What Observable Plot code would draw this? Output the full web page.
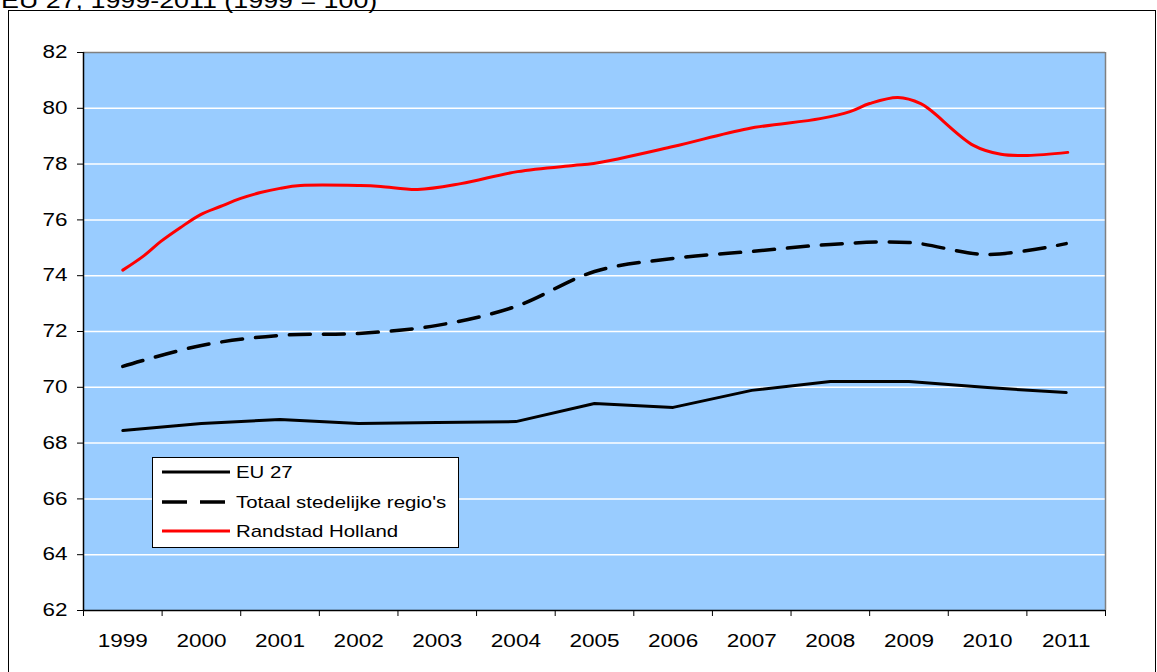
<!DOCTYPE html>
<html><head><meta charset="utf-8">
<script src="https://cdn.jsdelivr.net/npm/d3@7"></script>
<script src="https://cdn.jsdelivr.net/npm/@observablehq/plot@0.6"></script>
<style>
body{margin:0;background:#fff;font-family:"Liberation Sans",Arial,sans-serif;}
#wrap{position:relative;width:1157px;height:672px;overflow:hidden;}
#border{position:absolute;left:8px;top:10px;width:1148px;height:700px;border:1px solid #000;box-sizing:border-box;}
#chart{position:absolute;left:0;top:0;}
#overlay{position:absolute;left:0;top:0;}
</style></head><body>
<div id="wrap"><div id="border"></div><div id="chart"></div><svg id="overlay" width="1157" height="672"></svg></div>
<script>
const titleText = "EU 27, 1999-2011 (1999 = 100)";
const seriesNames = ["EU 27", "Totaal stedelijke regio's", "Randstad Holland"];
const years = [1999, 2000, 2001, 2002, 2003, 2004, 2005, 2006, 2007, 2008, 2009, 2010, 2011];
const eu27 = [68.45, 68.70, 68.85, 68.70, 68.74, 68.77, 69.42, 69.28, 69.89, 70.21, 70.21, 69.99, 69.81];
const totaal = [70.75, 71.50, 71.86, 71.93, 72.22, 72.90, 74.15, 74.62, 74.87, 75.12, 75.19, 74.76, 75.15];
const randstadYear = [1999.0, 1999.27, 1999.48, 1999.73, 1999.99, 2000.24, 2000.5, 2000.75, 2001.0, 2001.26, 2002.02, 2002.28, 2002.75, 2003.3, 2004.02, 2004.73, 2004.99, 2006.0, 2006.95, 2007.87, 2008.25, 2008.5, 2008.86, 2009.15, 2009.28, 2009.82, 2010.17, 2010.51, 2011.02];
const randstadVal = [74.2, 74.72, 75.22, 75.72, 76.19, 76.48, 76.77, 76.98, 77.13, 77.23, 77.23, 77.2, 77.09, 77.3, 77.73, 77.95, 78.02, 78.63, 79.27, 79.63, 79.88, 80.17, 80.39, 80.17, 79.92, 78.67, 78.35, 78.31, 78.42];
const yTicks = [62, 64, 66, 68, 70, 72, 74, 76, 78, 80, 82];

const xDomain = [years[0] - 0.5, years[years.length - 1] + 0.5];
const boundaries = [xDomain[0], ...years.map(y => y + 0.5)];
const euData = years.map((y, i) => ({x: y, v: eu27[i]}));
const totData = years.map((y, i) => ({x: y, v: totaal[i]}));
const rdData = randstadYear.map((y, i) => ({x: y, v: randstadVal[i]}));
const FONT = '"Liberation Sans", Arial, sans-serif';

const chart = Plot.plot({
  width: 1157, height: 672,
  marginLeft: 83, marginRight: 52, marginTop: 52, marginBottom: 62,
  style: {fontFamily: FONT, fontSize: "18px", color: "#000", background: "transparent", overflow: "visible"},
  x: {type: "linear", domain: xDomain},
  y: {domain: [yTicks[0], yTicks[yTicks.length - 1]]},
  marks: [
    Plot.frame({fill: "#99CCFF", stroke: "none"}),
    Plot.gridY(yTicks.slice(1, -1), {stroke: "#fff", strokeOpacity: 1, strokeWidth: 1.5}),
    Plot.ruleY([yTicks[yTicks.length - 1]], {stroke: "#808080", strokeWidth: 1.5}),
    Plot.ruleX([xDomain[1]], {stroke: "#808080", strokeWidth: 1.5}),
    Plot.axisY(yTicks, {tickSize: 6, tickPadding: 10, tickFormat: d => String(d), label: null, fontSize: 18, stroke: "#000"}),
    Plot.axisX(boundaries, {tickSize: 6, tickFormat: () => "", label: null, stroke: "#000"}),
    Plot.axisX(years, {tickSize: 0, tickPadding: 24, tickFormat: d => String(d), label: null, fontSize: 18}),
    Plot.ruleX([xDomain[0]], {stroke: "#000", strokeWidth: 1.5}),
    Plot.ruleY([yTicks[0]], {stroke: "#000", strokeWidth: 1.5}),
    Plot.line(euData, {x: "x", y: "v", stroke: "#000", strokeWidth: 3}),
    Plot.line(totData, {x: "x", y: "v", stroke: "#000", strokeWidth: 3.5, strokeDasharray: "21,13", curve: "catmull-rom"}),
    Plot.line(rdData, {x: "x", y: "v", stroke: "#ff0000", strokeWidth: 3, curve: "catmull-rom"})
  ]
});
document.getElementById("chart").appendChild(chart);

function stretch(root, k) {
  root.querySelectorAll("text").forEach(t => {
    const L = t.getComputedTextLength();
    if (L > 0) {
      t.setAttribute("textLength", (L * k).toFixed(1));
      t.setAttribute("lengthAdjust", "spacingAndGlyphs");
    }
  });
}
stretch(chart, 1.25);

// overlay: title + legend
const ov = d3.select("#overlay").style("font-family", FONT);
const titleG = ov.append("g");
titleG.append("text").attr("x", 1).attr("y", 8).attr("font-size", 22).attr("fill", "#000").text(titleText);
stretch(titleG.node(), 1.22);

const lg = ov.append("g");
lg.append("rect").attr("x", 152.5).attr("y", 457.5).attr("width", 306).attr("height", 90)
  .attr("fill", "#fff").attr("stroke", "#000").attr("stroke-width", 1);
const legendStyles = [
  {stroke: "#000", width: 3, dash: null},
  {stroke: "#000", width: 3.5, dash: "25,13"},
  {stroke: "#ff0000", width: 3, dash: null}
];
const rowY = [472, 502, 531];
seriesNames.forEach((name, i) => {
  const s = legendStyles[i];
  const ln = lg.append("line").attr("x1", 162).attr("x2", 230).attr("y1", rowY[i]).attr("y2", rowY[i])
    .attr("stroke", s.stroke).attr("stroke-width", s.width);
  if (s.dash) ln.attr("stroke-dasharray", s.dash);
  lg.append("text").attr("x", 236).attr("y", rowY[i]).attr("dy", "0.35em").attr("font-size", 17).attr("fill", "#000").text(name);
});
stretch(lg.node(), 1.2);
</script>
</body></html>
